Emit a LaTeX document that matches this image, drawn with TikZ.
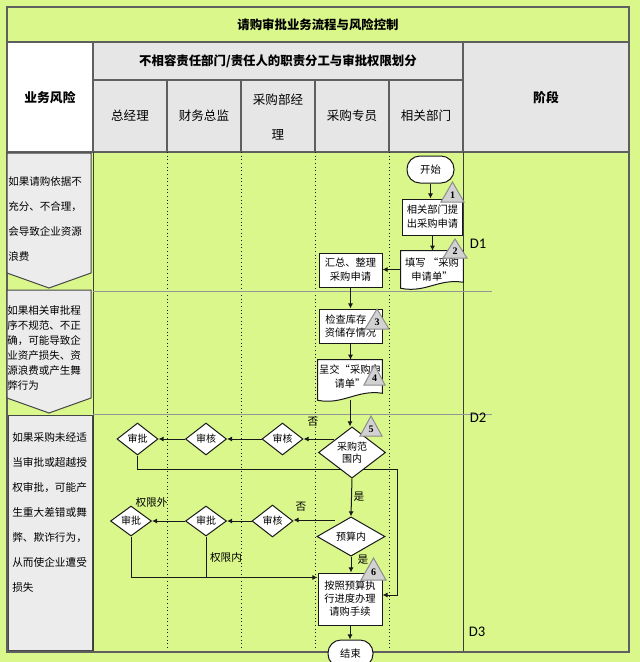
\documentclass[tikz,border=0pt]{standalone}
\usepackage{fontspec}
\setmainfont{Noto Sans CJK SC}
\newfontfamily\dfont{Carlito}
\newfontfamily\numfont{Liberation Serif}
\usetikzlibrary{shapes.geometric,arrows.meta,calc}
\newlength\px
\setlength\px{0.75pt}
\newcommand\fz[2]{\fontsize{#1}{#2}\selectfont}
\definecolor{bg}{RGB}{218,247,140}
\definecolor{hdr}{RGB}{230,230,230}
\definecolor{riskfill}{RGB}{236,236,236}
\definecolor{trifill}{RGB}{210,210,210}
\definecolor{tribord}{RGB}{140,140,140}
\definecolor{gridc}{RGB}{95,95,95}
\definecolor{ink}{RGB}{25,25,25}
\definecolor{rowline}{RGB}{150,150,150}
\begin{document}
\begin{tikzpicture}[x=0.75pt,y=-0.75pt,
  cell/.style={draw=gridc,line width=1.5\px},
  bodyline/.style={draw=ink!85,line width=1\px},
  hdrtext/.style={font=\fz{9.3}{11}\bfseries,inner sep=0pt},
  subtext/.style={font=\fz{9.4}{11},inner sep=0pt,align=center},
  risk/.style={draw=ink!80,fill=riskfill,line width=1\px},
  risktext/.style={inner sep=0pt,align=left,anchor=west},
  flow/.style={draw=ink,fill=white,line width=1\px,inner sep=0pt,align=center,font=\fz{7.7}{10.5}},
  proc/.style={flow,rectangle,minimum width=63\px,minimum height=34\px},
  term/.style={flow,rectangle,rounded corners=13\px,minimum width=47\px,minimum height=27\px},
  dia/.style={flow,diamond,font=\fz{7.5}{9}},
  smalldia/.style={dia,minimum width=41\px,minimum height=32\px},
  docbox/.style={rectangle,inner sep=0pt,minimum width=63\px,minimum height=38\px},
  doctext/.style={inner sep=0pt,align=center,font=\fz{7.7}{10.5}},
  docline/.style={draw=ink,fill=white,line width=1\px},
  tri/.style={draw=tribord,fill=trifill,line width=1\px},
  trinum/.style={font=\numfont\bfseries\fz{7.5}{8},inner sep=0pt},
  arr/.style={draw=ink,line width=0.75pt,-{Latex[length=3.8pt,width=3.8pt]}},
  conn/.style={draw=ink,line width=0.75pt},
  lab/.style={font=\fz{8}{9},inner sep=0pt},
  dlab/.style={font=\dfont\fz{11}{12},inner sep=0pt},
  vdot/.style={draw=ink,line width=1\px,dotted},
]
\fill[bg] (0,0) rectangle (640,662);
\useasboundingbox (0,0) rectangle (640,662);
\clip (0,0) rectangle (640,662);

% ---------- header ----------
\fill[white] (7,42) rectangle (93,152);
\fill[hdr] (93,42) rectangle (629,152);
\draw[cell] (7,42) -- (629,42);
\draw[cell] (93,80) -- (463,80);
\draw[cell] (7,152) -- (629,152);
\draw[cell] (93,42) -- (93,152);
\draw[cell] (463,42) -- (463,152);
\foreach \x in {167,241,315,389} \draw[cell] (\x,80) -- (\x,152);

\node[hdrtext] (title) at (318,25) {请购审批业务流程与风险控制};
\node[hdrtext] (hmid) at (278,61.5) {不相容责任部门/责任人的职责分工与审批权限划分};
\node[hdrtext,font=\fz{9.6}{11}\bfseries] (hrisk) at (50,98) {业务风险};
\node[hdrtext,font=\fz{9.6}{11}\bfseries] (hstage) at (546,98) {阶段};
\node[subtext] (c1) at (130,116) {总经理};
\node[subtext] (c2) at (204,116) {财务总监};
\node[subtext,font=\fz{9.4}{26.25}] (c3) at (278,116.5) {采购部经\\理};
\node[subtext] (c4) at (352,116) {采购专员};
\node[subtext] (c5) at (426,116) {相关部门};

% ---------- body grid ----------
\draw[bodyline] (93,152) -- (93,652);
\draw[bodyline] (463,152) -- (463,652);
\foreach \x in {167,241,315,389} \draw[vdot] (\x,152) -- (\x,652);
\draw[rowline,line width=1\px] (93,291) -- (492,291);
\draw[rowline,line width=1\px] (93,414) -- (492,414);
\draw[cell] (7,7) rectangle (629,652);

% ---------- risk column ----------
\draw[risk] (7,153) -- (91,153) -- (91,273) -- (49,288) -- (7,273) -- cycle;
\node[risktext,font=\fz{7.9}{18.75}] (r1) at (8,219.5) {如果请购依据不\\充分、不合理，\\会导致企业资源\\浪费};
\draw[risk] (7,290) -- (91,290) -- (91,398) -- (49,413) -- (7,398) -- cycle;
\node[risktext,font=\fz{7.9}{11.25}] (r2) at (7,347.5) {如果相关审批程\\序不规范、不正\\确，可能导致企\\业资产损失、资\\源浪费或产生舞\\弊行为};
\draw[risk] (8,415) rectangle (92,650);
\node[risktext,font=\fz{8}{18.75}] (r3) at (12,512) {如果采购未经适\\当审批或超越授\\权审批，可能产\\生重大差错或舞\\弊、欺诈行为，\\从而使企业遭受\\损失};

% ---------- flow ----------
\node[term] (start) at (430.5,169.5) {开始};
\node[proc,minimum width=60\px,minimum height=36\px] (p1) at (432.5,217) {相关部门提\\出采购申请};

\node[docbox,minimum width=62\px,minimum height=37\px] (doc1) at (432,269.5) {};
\draw[docline] (doc1.south west) -- (doc1.north west) -- (doc1.north east) -- ($(doc1.south east)+(0,-6)$)
  .. controls ($(doc1.south east)+(-25,-10)$) and ($(doc1.south west)+(25,5)$) .. (doc1.south west) -- cycle;
\node[doctext] (doc1t) at (432,270) {填写 “采购\\申请单”};

\node[proc] (p2) at (350.5,270) {汇总、整理\\采购申请};
\node[proc] (p3) at (350.5,326) {};
\node[doctext,anchor=west] (p3a) at (325,320) {检查库存};
\node[doctext] (p3b) at (350.5,333) {资储存情况};

\node[docbox,minimum width=64\px,minimum height=40\px] (doc2) at (350,380) {};
\draw[docline] (doc2.south west) -- (doc2.north west) -- (doc2.north east) -- ($(doc2.south east)+(0,-7)$)
  .. controls ($(doc2.south east)+(-25,-11)$) and ($(doc2.south west)+(25,5)$) .. (doc2.south west) -- cycle;
\node[doctext] (doc2t) at (350,376.5) {呈交“采购申\\请单”};

% approval diamonds, row 1
\node[smalldia] (sh1) at (282.5,439) {审核};
\node[smalldia] (sh2) at (206,439) {审核};
\node[smalldia] (sp1) at (137.5,439) {审批};

\node[proc,minimum width=64\px,minimum height=52\px,font=\fz{7.7}{9.75}] (p4) at (350,599) {按照预算执\\行进度办理\\请购手续};

% loop from sp1 back (behind the decision diamond)
\coordinate (r1a) at (397,469);
\coordinate (r1b) at (397,595);
\draw[arr] (sp1.south) |- (r1a) -- (r1b) -- (r1b -| p4.east);

\node[dia,minimum width=67\px,minimum height=41\px] (d5) at (352,452.5) {采购范\\围内};
\node[dia,minimum width=68\px,minimum height=33\px] (d6) at (351,536.5) {预算内};

% approval diamonds, row 2
\node[smalldia] (sh3) at (272.5,521) {审核};
\node[smalldia,minimum height=30\px] (sp2) at (206,521) {审批};
\node[smalldia,minimum height=30\px] (sp3) at (131,521) {审批};

\node[term,minimum width=45\px] (end) at (350.5,653.5) {结束};

% ---------- triangles ----------
\draw[tri] (452.5,182) -- (464,202) -- (441,202) -- cycle;
\node[trinum] (t1) at (452.5,195) {1};
\draw[tri] (455,239) -- (467,258) -- (443,258) -- cycle;
\node[trinum] (t2) at (455,251.5) {2};
\draw[tri] (377,309) -- (389,329) -- (365,329) -- cycle;
\node[trinum] (t3) at (377,322) {3};
\draw[tri] (374.5,365) -- (385,385) -- (364,385) -- cycle;
\node[trinum] (t4) at (374.5,378) {4};
\draw[tri] (371,416) -- (382,436) -- (360,436) -- cycle;
\node[trinum] (t5) at (371,429) {5};
\draw[tri] (373.5,558) -- (386,580) -- (361,580) -- cycle;
\node[trinum] (t6) at (373.5,572) {6};

% ---------- connectors ----------
\draw[arr] (start.south) -- (start.south |- p1.north);
\draw[arr] (p1.south) -- (p1.south |- doc1.north);
\draw[arr] (doc1.west) -- (p2.east |- doc1.west);
\draw[arr] (p2.south) -- (p3.north);
\draw[arr] (p3.south) -- (p3.south |- doc2.north);
\draw[arr] (doc2.south) -- (doc2.south |- d5.north);

\coordinate (no1) at (334,439);
\draw[arr] (no1) -- (sh1.east);
\draw[arr] (sh1.west) -- (sh2.east);
\draw[arr] (sh2.west) -- (sp1.east);

\draw[arr] (d5.south) -- (d6.north);
\coordinate (no2) at (335,520);
\draw[arr] (no2) -- (no2 -| sh3.east);
\draw[arr] (sh3.west) -- (sp2.east);
\draw[arr] (sp2.west) -- (sp3.east);

\coordinate (jn) at ($(p4.north west)+(0,5)$);
\draw[arr] (sp3.south) |- (jn);
\draw[conn] (sp2.south) -- (sp2.south |- jn);

\draw[arr] (d6.south) -- (d6.south |- p4.north);
\draw[arr] (p4.south) -- (p4.south |- end.north);

% ---------- labels ----------
\node[lab] (no1l) at (313,422) {否};
\node[lab] (yes1l) at (359,497) {是};
\node[lab] (no2l) at (301,507) {否};
\node[lab] (outl) at (151.5,502) {权限外};
\node[lab] (inl) at (226,557) {权限内};
\node[lab] (yes2l) at (363,560) {是};
\node[dlab] (D1) at (478,244) {D1};
\node[dlab] (D2) at (478,418) {D2};
\node[dlab] (D3) at (477,632) {D3};
\end{tikzpicture}
\end{document}
